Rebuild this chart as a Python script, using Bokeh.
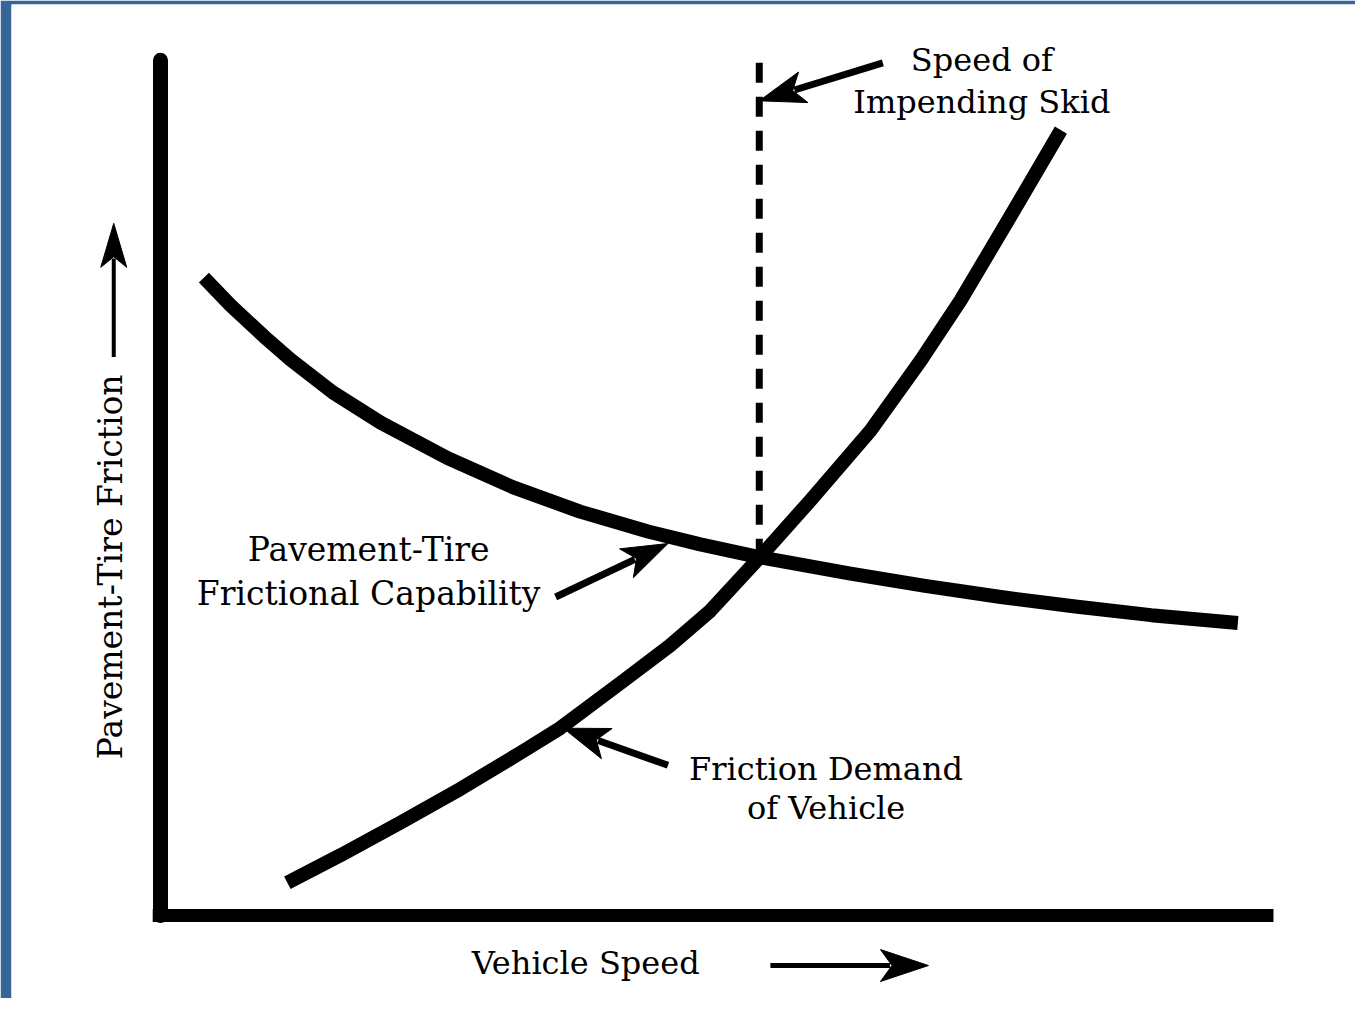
from bokeh.plotting import figure
from bokeh.models import Range1d, ColumnDataSource
from bokeh.core.properties import value
from bokeh.embed import file_html
from bokeh.resources import INLINE
import math

# ---- data (arbitrary units: each axis runs 0..100) ----
cap_speed = [3.9, 6.3, 9.3, 11.7, 15.5, 19.8, 25.8, 31.7, 37.7, 43.8, 48.5, 53.9,
             62.0, 68.7, 75.5, 82.2, 89.0, 96.8]
cap_friction = [73.9, 70.7, 67.1, 64.4, 60.6, 57.1, 53.0, 49.6, 46.8, 44.5, 43.0, 41.5,
                39.6, 38.2, 36.9, 35.8, 34.8, 33.9]

dem_speed = [11.4, 16.2, 21.6, 27.0, 32.4, 35.9, 41.6, 45.8, 49.4, 53.9, 58.4, 63.8,
             68.3, 71.9, 76.4, 80.9]
dem_friction = [3.8, 7.0, 10.8, 14.7, 18.9, 21.7, 27.2, 31.3, 35.3, 41.6, 48.1, 56.2,
                64.3, 71.3, 81.1, 91.0]

skid_speed = 53.8
skid_top = 98.8
skid_bottom = 41.5

x_label = "Vehicle Speed"
y_label = "Pavement-Tire Friction"

# annotation arrows: start -> end (data units)
arr_x0 = [64.9, 35.5, 45.6, -4.2, 54.8]
arr_y0 = [98.8, 36.9, 17.4, 64.7, -5.8]
arr_x1 = [53.8, 45.6, 36.2, -4.2, 69.0]
arr_y1 = [94.4, 43.1, 21.7, 80.2, -5.8]

FONT = value("DejaVu Serif")
W, H = 1355, 998
BL, BT = 11, 4
X0, X1, Y0, Y1 = -13.387, 107.37, -9.62, 105.56

p = figure(width=W, height=H,
           x_range=Range1d(X0, X1), y_range=Range1d(Y0, Y1),
           x_axis_type=None, y_axis_type=None,
           output_backend="svg", toolbar_location=None,
           min_border_left=BL, min_border_top=BT, min_border_right=0, min_border_bottom=0)
p.grid.visible = False
p.outline_line_color = None
p.background_fill_color = "white"
p.border_fill_color = "#36659a"

# axes drawn as thick lines
p.line([0, 0], [0, 99.1], line_width=15, line_color="black", line_cap="round")
p.line([-0.7, 100], [0, 0], line_width=13, line_color="black", line_cap="butt")

# curves
p.line(cap_speed, cap_friction, line_width=14, line_color="black", line_join="round", line_cap="butt")
p.line(dem_speed, dem_friction, line_width=14, line_color="black", line_join="round", line_cap="butt")

# dashed line at speed of impending skid
p.line([skid_speed, skid_speed], [skid_top, skid_bottom], line_width=7,
       line_color="black", line_dash="20 14")

# arrows: shaft + barbed filled head (head geometry built from arrow direction)
sx = (W - BL) / (X1 - X0)
sy = (H - BT) / (Y1 - Y0)
head_len = [46, 46, 46, 44, 48]
head_wid = [32, 32, 32, 26, 32]
shaft_w = [7, 7, 7, 4, 5]
hx, hy, s_x0, s_y0, s_x1, s_y1 = [], [], [], [], [], []
for i in range(len(arr_x0)):
    dx = (arr_x1[i] - arr_x0[i]) * sx
    dy = (arr_y1[i] - arr_y0[i]) * sy
    n = math.hypot(dx, dy)
    ux, uy = dx / n, dy / n
    px_, py_ = -uy, ux
    L, Wd = head_len[i], head_wid[i]
    tipx, tipy = arr_x1[i], arr_y1[i]
    pts = [(0, 0), (-L * ux + Wd / 2 * px_, -L * uy + Wd / 2 * py_),
           (-0.76 * L * ux, -0.76 * L * uy),
           (-L * ux - Wd / 2 * px_, -L * uy - Wd / 2 * py_)]
    hx.append([tipx + a / sx for a, b in pts])
    hy.append([tipy + b / sy for a, b in pts])
    s_x0.append(arr_x0[i]); s_y0.append(arr_y0[i])
    s_x1.append(tipx - 0.8 * L * ux / sx); s_y1.append(tipy - 0.8 * L * uy / sy)

p.segment(x0="x0", y0="y0", x1="x1", y1="y1", line_width="w", line_color="black",
          source=ColumnDataSource(dict(x0=s_x0, y0=s_y0, x1=s_x1, y1=s_y1, w=shaft_w)))
p.patches(hx, hy, fill_color="black", line_color="black", line_width=1, line_join="miter")

# texts
txt = ColumnDataSource(dict(
    x=[73.8, 73.8, 18.7, 18.7, 59.8, 59.8],
    y=[99.1, 94.3, 42.4, 37.3, 17.0, 12.4],
    t=["Speed of", "Impending Skid", "Pavement-Tire", "Frictional Capability",
       "Friction Demand", "of Vehicle"],
    s=["32px", "32px", "33px", "33px", "32px", "32px"],
))
p.text(x="x", y="y", text="t", text_font_size="s", source=txt, text_font=FONT,
       text_align="center", text_baseline="alphabetic", text_color="black")

p.text(x=[38.2], y=[-5.55], text=[x_label], text_font=FONT, text_font_size="32px",
       text_align="center", text_baseline="alphabetic", text_color="black")
p.text(x=[-4.5], y=[40.4], text=[y_label], text_font=FONT, text_font_size="33px",
       angle=math.pi / 2, text_align="center", text_baseline="alphabetic", text_color="black")

open("out.html", "w").write(file_html(p, INLINE))
